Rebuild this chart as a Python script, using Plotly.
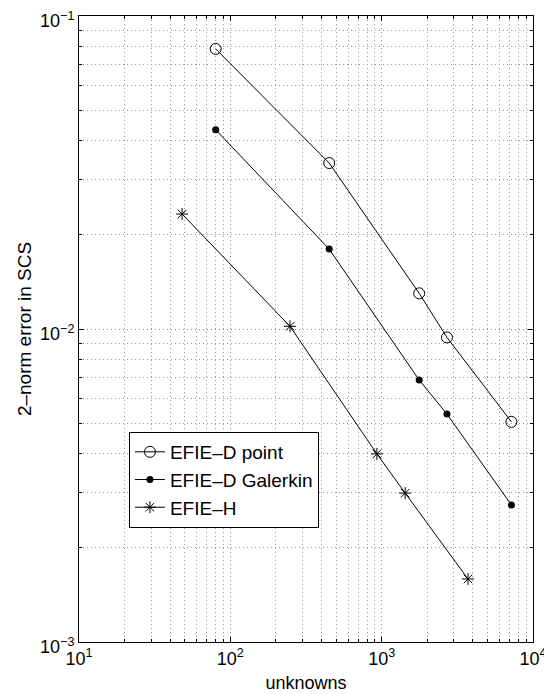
import plotly.graph_objects as go

x_point = [80, 450, 1770, 2700, 7200]
y_point = [0.0785, 0.0339, 0.0130, 0.0094, 0.00505]
x_gal = [80, 450, 1770, 2700, 7200]
y_gal = [0.0433, 0.0180, 0.00687, 0.00535, 0.00274]
x_h = [48, 248, 930, 1430, 3720]
y_h = [0.0233, 0.0102, 0.00399, 0.00299, 0.00159]

names = ["EFIE–D point", "EFIE–D Galerkin", "EFIE–H"]
x_ticks = [10, 100, 1000, 10000]
x_ticktext = ["10<sup>1</sup>", "10<sup>2</sup>", "10<sup>3</sup>", "10<sup>4</sup>"]
y_ticks = [0.001, 0.01, 0.1]
y_ticktext = ["10<sup>−3</sup>", "10<sup>−2</sup>", "10<sup>−1</sup>"]

x_minor = [m * 10 ** e for e in range(1, 4) for m in range(2, 10)]
y_minor = [m * 10 ** e for e in range(-3, -1) for m in range(2, 10)]

FONT = "Liberation Sans, Arial, Helvetica"

fig = go.Figure()
fig.add_trace(go.Scatter(x=x_point, y=y_point, name=names[0], mode="lines+markers",
                         line=dict(color="black", width=1),
                         marker=dict(symbol="circle-open", size=11, color="black", line=dict(width=1))))
fig.add_trace(go.Scatter(x=x_gal, y=y_gal, name=names[1], mode="lines+markers",
                         line=dict(color="black", width=1),
                         marker=dict(symbol="circle", size=7, color="black")))
fig.add_trace(go.Scatter(x=x_h, y=y_h, name=names[2], mode="lines+markers",
                         line=dict(color="black", width=1),
                         marker=dict(symbol="asterisk-open", size=10, color="black", line=dict(width=1, color="black"))))

grid_dash = "1px,3px"
axis_common = dict(
    showline=True, linecolor="black", linewidth=1, mirror="ticks",
    ticks="inside", ticklen=5, tickcolor="black",
    showgrid=True, gridcolor="#8a8a8a", griddash=grid_dash, gridwidth=1,
    zeroline=False, automargin=True, ticklabeloverflow="allow",
    tickfont=dict(family=FONT, size=18, color="black"),
)

fig.update_xaxes(type="log", range=[1, 4], tickmode="array", tickvals=x_ticks, ticktext=x_ticktext,
                 title=dict(text="unknowns", font=dict(family=FONT, size=18, color="black"), standoff=8),
                 minor=dict(tickmode="array", tickvals=x_minor, showgrid=True, gridcolor="#9a9a9a", griddash=grid_dash,
                            ticks="inside", ticklen=3, tickcolor="black"),
                 **axis_common)
fig.update_yaxes(type="log", range=[-3, -1], tickmode="array", tickvals=y_ticks, ticktext=y_ticktext,
                 ticklabelshift=5,
                 title=dict(text="2–norm error in SCS", font=dict(family=FONT, size=19, color="black"), standoff=3),
                 minor=dict(tickmode="array", tickvals=y_minor, showgrid=True, gridcolor="#9a9a9a", griddash=grid_dash,
                            ticks="inside", ticklen=3, tickcolor="black"),
                 **axis_common)

# page body has an 8px margin, so the figure is shrunk by 8px and margins offset
fig.update_layout(
    width=544, height=686,
    margin=dict(l=71, r=19, t=8, b=52, autoexpand=False),
    paper_bgcolor="white", plot_bgcolor="white",
    showlegend=True,
    legend=dict(x=0.11, y=0.3355, xanchor="left", yanchor="top",
                bgcolor="white", bordercolor="black", borderwidth=1,
                font=dict(family=FONT, size=19, color="black"),
                itemwidth=30, tracegroupgap=0),
)

fig.write_html("out.html")
